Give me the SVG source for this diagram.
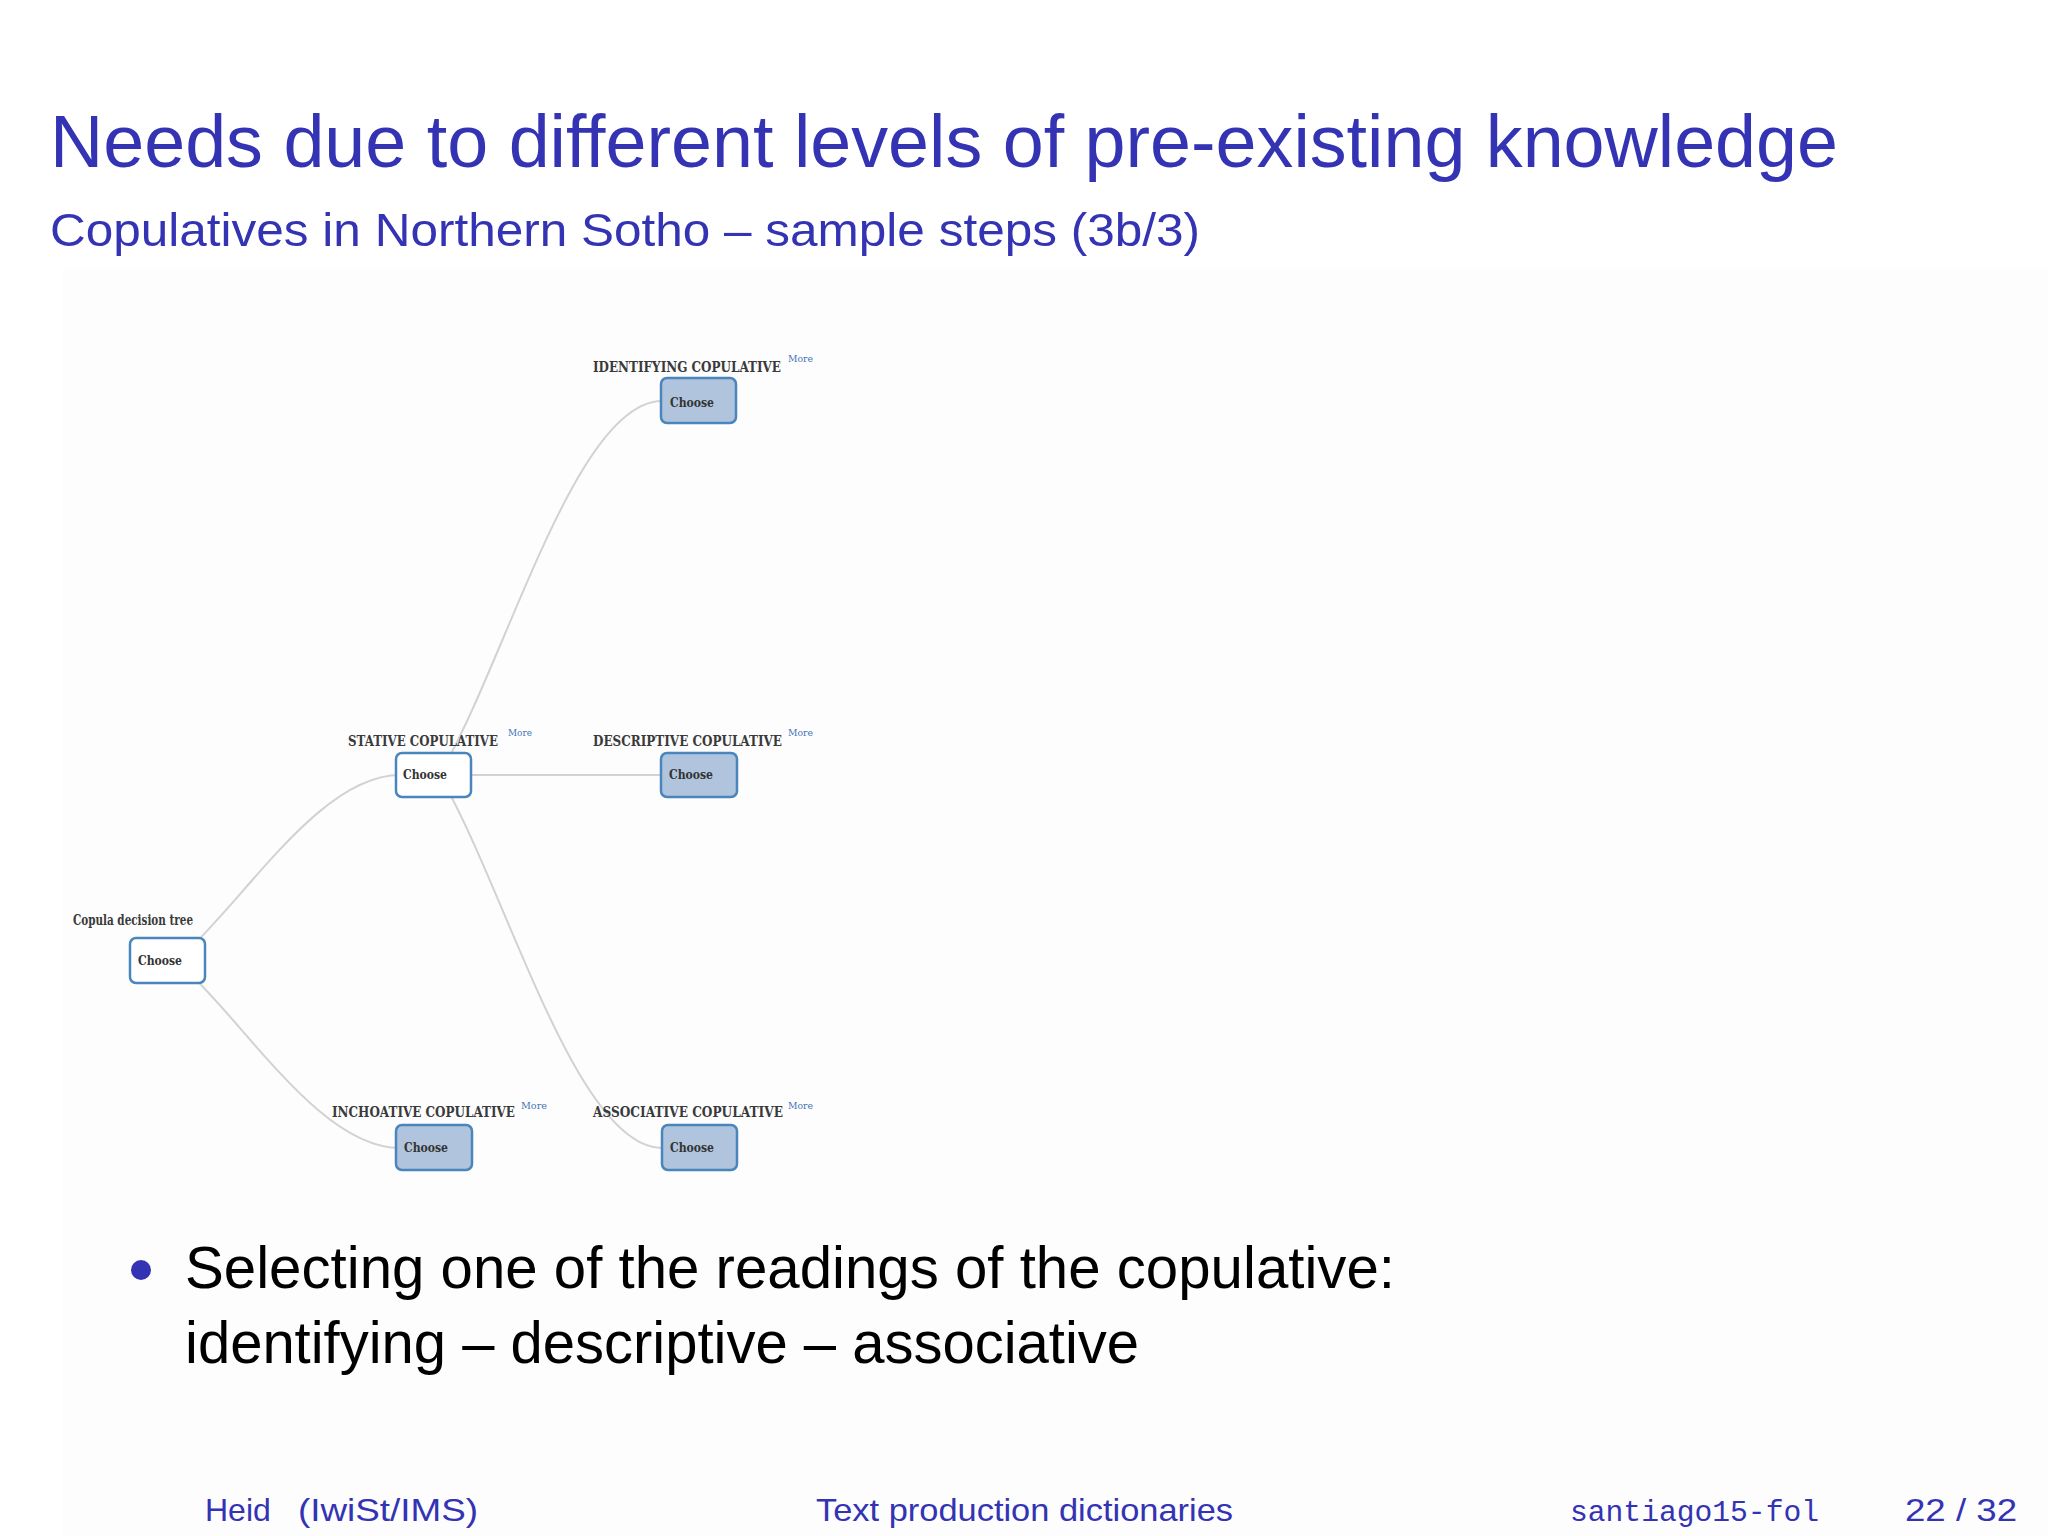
<svg xmlns="http://www.w3.org/2000/svg" width="2048" height="1536" viewBox="0 0 2048 1536">
<style>
.bg{fill:#ffffff}
.panel{fill:#fdfdfe}
.title{font-family:"Liberation Sans","DejaVu Sans",sans-serif;fill:#3333b3}
.body{font-family:"Liberation Sans","DejaVu Sans",sans-serif;fill:#000000}
.foot{font-family:"Liberation Sans","DejaVu Sans",sans-serif;fill:#3333b3;font-size:32px}
.mono{font-family:"Liberation Mono","DejaVu Sans Mono",monospace;fill:#3333b3;font-size:29px}
.link{fill:none;stroke:#d2d2d2;stroke-width:2}
.box{stroke:#4a85bb;stroke-width:2.5}
.open{fill:#ffffff}
.closed{fill:#b0c4de}
.lbl{font-family:"DejaVu Serif","Liberation Serif",serif;font-size:14px;font-weight:bold;fill:#3a3a3a}
.choose{font-family:"DejaVu Serif","Liberation Serif",serif;font-size:13.5px;font-weight:bold;fill:#333333}
.more{font-family:"DejaVu Serif","Liberation Serif",serif;font-size:10px;fill:#3f73b5}
</style>
<rect class="bg" x="0" y="0" width="2048" height="1536"/>
<rect class="panel" x="63" y="268" width="1985" height="1268"/>

<text class="title" x="50" y="167" font-size="75" textLength="1788" lengthAdjust="spacingAndGlyphs">Needs due to different levels of pre-existing knowledge</text>
<text class="title" x="50" y="246" font-size="47" textLength="1150" lengthAdjust="spacingAndGlyphs">Copulatives in Northern Sotho – sample steps (3b/3)</text>

<g id="connectors">
<path class="link" d="M180,958 C245,900 320,775 400,775 L433,775"/>
<path class="link" d="M180,964 C245,1022 320,1148 400,1148 L433,1148"/>
<path class="link" d="M445,765 C509,650 578,401 662,401 L699,401"/>
<path class="link" d="M445,785 C509,900 578,1148 662,1148 L699,1148"/>
<path class="link" d="M433,775 L699,775"/>
</g>

<g id="node-root">
<text class="lbl" x="73" y="925" textLength="120" lengthAdjust="spacingAndGlyphs">Copula decision tree</text>
<rect class="box open" x="130" y="938" width="75" height="45" rx="6"/>
<text class="choose" x="138" y="965" textLength="44" lengthAdjust="spacingAndGlyphs">Choose</text>
</g>

<g id="node-stative">
<text class="lbl" x="348" y="746" textLength="150" lengthAdjust="spacingAndGlyphs">STATIVE COPULATIVE</text>
<text class="more" x="508" y="736" textLength="24" lengthAdjust="spacingAndGlyphs">More</text>
<rect class="box open" x="396" y="753" width="75" height="44" rx="6"/>
<text class="choose" x="403" y="779" textLength="44" lengthAdjust="spacingAndGlyphs">Choose</text>
</g>

<g id="node-identifying">
<text class="lbl" x="593" y="372" textLength="188" lengthAdjust="spacingAndGlyphs">IDENTIFYING COPULATIVE</text>
<text class="more" x="788" y="362" textLength="25" lengthAdjust="spacingAndGlyphs">More</text>
<rect class="box closed" x="661" y="378" width="75" height="45" rx="6"/>
<text class="choose" x="670" y="407" textLength="44" lengthAdjust="spacingAndGlyphs">Choose</text>
</g>

<g id="node-descriptive">
<text class="lbl" x="593" y="746" textLength="189" lengthAdjust="spacingAndGlyphs">DESCRIPTIVE COPULATIVE</text>
<text class="more" x="788" y="736" textLength="25" lengthAdjust="spacingAndGlyphs">More</text>
<rect class="box closed" x="661" y="753" width="76" height="44" rx="6"/>
<text class="choose" x="669" y="779" textLength="44" lengthAdjust="spacingAndGlyphs">Choose</text>
</g>

<g id="node-inchoative">
<text class="lbl" x="332" y="1117" textLength="183" lengthAdjust="spacingAndGlyphs">INCHOATIVE COPULATIVE</text>
<text class="more" x="521" y="1109" textLength="26" lengthAdjust="spacingAndGlyphs">More</text>
<rect class="box closed" x="396" y="1125" width="76" height="45" rx="6"/>
<text class="choose" x="404" y="1152" textLength="44" lengthAdjust="spacingAndGlyphs">Choose</text>
</g>

<g id="node-associative">
<text class="lbl" x="593" y="1117" textLength="190" lengthAdjust="spacingAndGlyphs">ASSOCIATIVE COPULATIVE</text>
<text class="more" x="788" y="1109" textLength="25" lengthAdjust="spacingAndGlyphs">More</text>
<rect class="box closed" x="662" y="1125" width="75" height="45" rx="6"/>
<text class="choose" x="670" y="1152" textLength="44" lengthAdjust="spacingAndGlyphs">Choose</text>
</g>

<circle cx="141" cy="1270" r="10" fill="#3333b3"/>
<text class="body" x="185" y="1288" font-size="60" textLength="1210" lengthAdjust="spacingAndGlyphs">Selecting one of the readings of the copulative:</text>
<text class="body" x="185" y="1363" font-size="60" textLength="954" lengthAdjust="spacingAndGlyphs">identifying – descriptive – associative</text>

<text class="foot" x="205" y="1521">Heid <tspan x="298" textLength="180" lengthAdjust="spacingAndGlyphs">(IwiSt/IMS)</tspan></text>
<text class="foot" x="816" y="1521" textLength="417" lengthAdjust="spacingAndGlyphs">Text production dictionaries</text>
<text class="mono" x="1570" y="1521" textLength="249" lengthAdjust="spacingAndGlyphs">santiago15-fol</text>
<text class="foot" x="1905" y="1521" textLength="112" lengthAdjust="spacingAndGlyphs">22 / 32</text>
</svg>
